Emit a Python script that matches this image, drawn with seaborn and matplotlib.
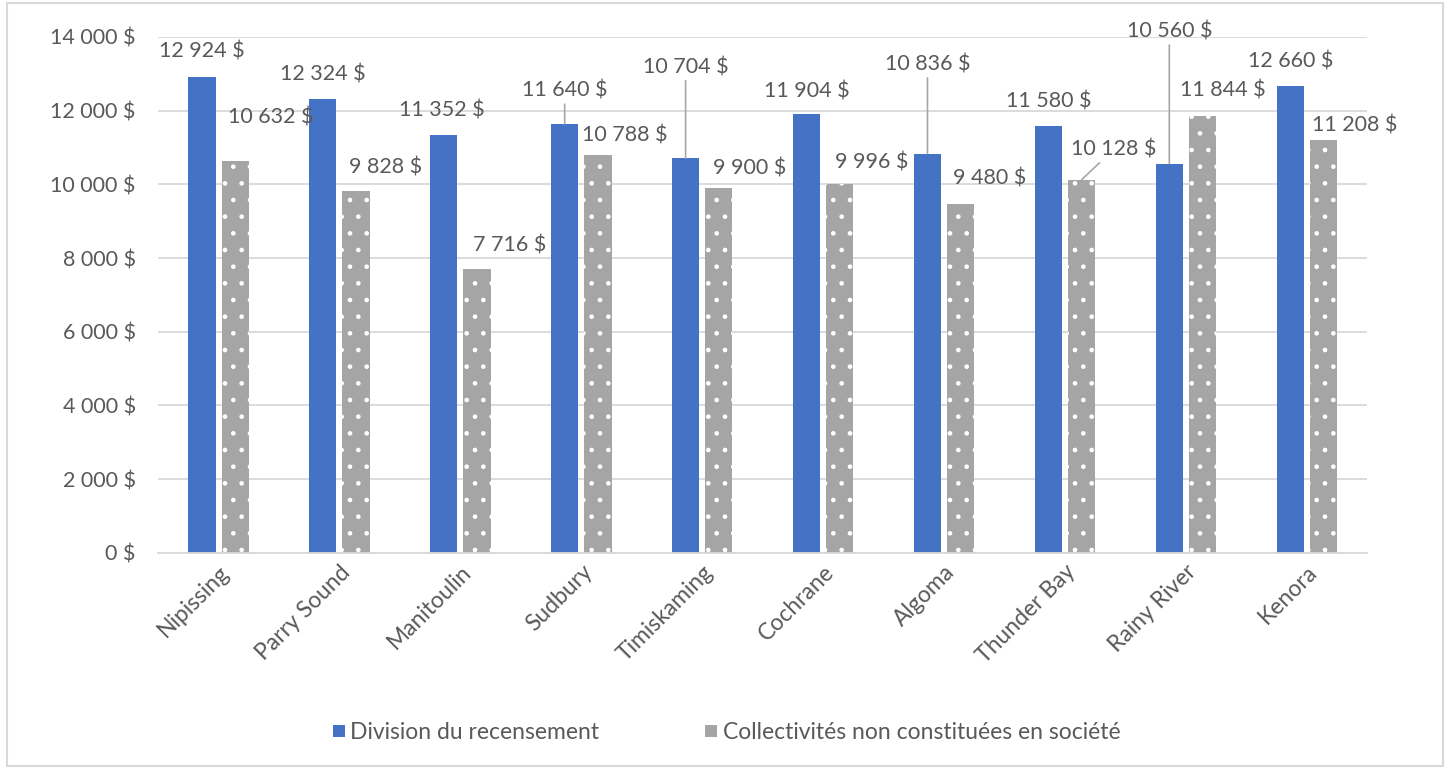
import numpy as np
import pandas as pd
import matplotlib
matplotlib.use("Agg")
import matplotlib.pyplot as plt
from matplotlib.patches import Rectangle
from matplotlib.lines import Line2D
from matplotlib.ticker import FuncFormatter
import seaborn as sns

# ---- data ----
regions = ["Nipissing", "Parry Sound", "Manitoulin", "Sudbury", "Timiskaming",
           "Cochrane", "Algoma", "Thunder Bay", "Rainy River", "Kenora"]
division = [12924, 12324, 11352, 11640, 10704, 11904, 10836, 11580, 10560, 12660]
collectivites = [10632, 9828, 7716, 10788, 9900, 9996, 9480, 10128, 11844, 11208]
series_names = ["Division du recensement", "Collectivités non constituées en société"]
y_ticks = [0, 2000, 4000, 6000, 8000, 10000, 12000, 14000]

# ---- label placement (pixels, relative to bar top) ----
blue_offsets = [(0, 25), (0, 24), (-2, 24), (0, 33), (0, 91),
                (0, 23), (0, 89), (0, 25), (0, 132), (0, 25)]
blue_leader = [False, False, False, True, True, False, True, False, True, False]
grey_offsets = [(36, 44), (29, 23), (33, 23), (27, 20), (31, 20),
                (32, 22), (29, 25), (32, 30), (20, 26), (31, 14)]
grey_leader = [False, False, False, False, False, False, False, True, False, False]

BLUE = "#4472C4"
GREY = "#A5A5A5"
TXT = "#595959"
FONT = ["Lato", "DejaVu Sans"]
FS = 15.5
FS_TICK = 15.5
FS_X = 16.5
FS_LEG = 16.5

df = pd.DataFrame({
    "region": regions * 2,
    "value": division + collectivites,
    "serie": [series_names[0]] * len(regions) + [series_names[1]] * len(regions),
})

sns.set_theme(style="white")
plt.rcParams["font.family"] = FONT
plt.rcParams["hatch.linewidth"] = 0.9

fig = plt.figure(figsize=(14.5, 7.69), dpi=100)
ax = fig.add_axes([0.109, 0.281, 0.834, 0.671])

sns.barplot(data=df, x="region", y="value", hue="serie", order=regions,
            hue_order=series_names, palette=[BLUE, GREY], width=0.55, gap=0.18,
            saturation=1, linewidth=0, legend=False, ax=ax)

ax.set_ylim(0, 14000)
ax.set_yticks(y_ticks)
ax.yaxis.set_major_formatter(FuncFormatter(lambda v, p: f"{int(v):,} $".replace(",", " ")))
ax.grid(axis="y", color="#d9d9d9", linewidth=1.3)
ax.set_axisbelow(True)
for s in ["top", "right", "left"]:
    ax.spines[s].set_visible(False)
ax.spines["bottom"].set_color("#d9d9d9")
ax.spines["bottom"].set_linewidth(1.3)
ax.set_xlabel("")
ax.set_ylabel("")
ax.tick_params(axis="y", length=0, pad=16, labelsize=FS_TICK, labelcolor=TXT)
ax.tick_params(axis="x", length=0, pad=6, labelsize=FS_X, labelcolor=TXT)
for lab in ax.get_xticklabels():
    lab.set_rotation(45)
    lab.set_ha("right")
    lab.set_rotation_mode("anchor")

blue_bars = ax.containers[0]
grey_bars = ax.containers[1]
for p in grey_bars:
    p.set_hatch(".")
    p.set_edgecolor("white")
    p.set_linewidth(0)


def fmt(v):
    return f"{int(v):,} $".replace(",", " ")


def label(bars, offsets, leaders):
    for p, (dx, dy), lead in zip(bars, offsets, leaders):
        x = p.get_x() + p.get_width() / 2
        h = p.get_height()
        kw = {}
        if lead:
            kw["arrowprops"] = dict(arrowstyle="-", color="#a6a6a6", lw=1.2,
                                    shrinkA=0, shrinkB=0)
        ax.annotate(fmt(h), xy=(x, h), xytext=(dx, dy), textcoords="offset pixels",
                    ha="center", va="center", fontsize=FS, color=TXT, **kw)


label(blue_bars, blue_offsets, blue_leader)
label(grey_bars, grey_offsets, grey_leader)

handles = [Line2D([0], [0], marker="s", linestyle="", markersize=9,
                  markerfacecolor=c, markeredgewidth=0) for c in (BLUE, GREY)]
fig.legend(handles, series_names, loc="center", bbox_to_anchor=(0.5, 0.047),
           ncol=2, frameon=False, fontsize=FS_LEG, labelcolor=TXT,
           handletextpad=0.1, columnspacing=4.5, handlelength=0.8)

fig.patches.append(Rectangle((0.005, 0.004), 0.99, 0.992, transform=fig.transFigure,
                             fill=False, edgecolor="#d9d9d9", linewidth=1.5))

fig.savefig("out.png", dpi=100)
